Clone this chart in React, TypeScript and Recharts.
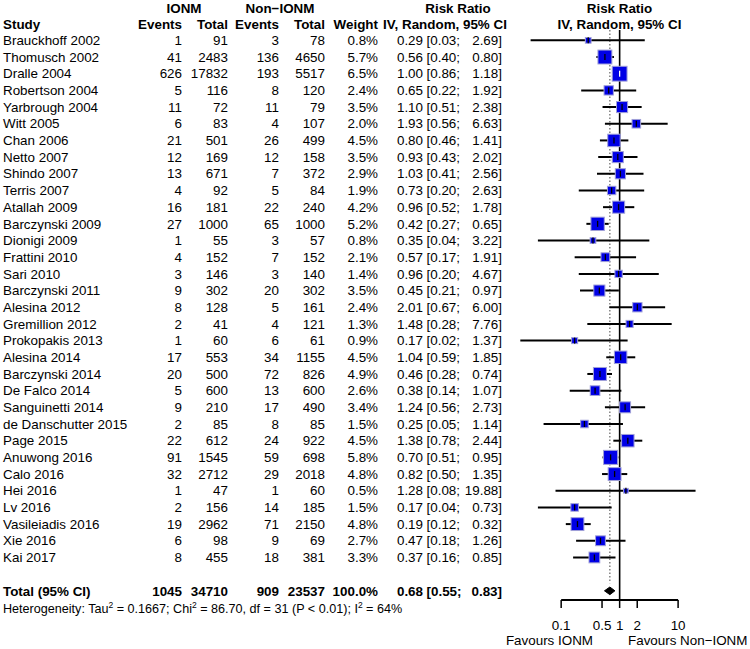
import { ScatterChart, Scatter, XAxis, YAxis, ErrorBar, ReferenceLine, Customized } from 'recharts'

const studies = [
  'Brauckhoff 2002', 'Thomusch 2002', 'Dralle 2004', 'Robertson 2004', 'Yarbrough 2004', 'Witt 2005',
  'Chan 2006', 'Netto 2007', 'Shindo 2007', 'Terris 2007', 'Atallah 2009', 'Barczynski 2009',
  'Dionigi 2009', 'Frattini 2010', 'Sari 2010', 'Barczynski 2011', 'Alesina 2012', 'Gremillion 2012',
  'Prokopakis 2013', 'Alesina 2014', 'Barczynski 2014', 'De Falco 2014', 'Sanguinetti 2014',
  'de Danschutter 2015', 'Page 2015', 'Anuwong 2016', 'Calo 2016', 'Hei 2016', 'Lv 2016',
  'Vasileiadis 2016', 'Xie 2016', 'Kai 2017',
]
const ionmEvents = [1, 41, 626, 5, 11, 6, 21, 12, 13, 4, 16, 27, 1, 4, 3, 9, 8, 2, 1, 17, 20, 5, 9, 2, 22, 91, 32, 1, 2, 19, 6, 8]
const ionmTotal = [91, 2483, 17832, 116, 72, 83, 501, 169, 671, 92, 181, 1000, 55, 152, 146, 302, 128, 41, 60, 553, 500, 600, 210, 85, 612, 1545, 2712, 47, 156, 2962, 98, 455]
const nonEvents = [3, 136, 193, 8, 11, 4, 26, 12, 7, 5, 22, 65, 3, 7, 3, 20, 5, 4, 6, 34, 72, 13, 17, 8, 24, 59, 29, 1, 14, 71, 9, 18]
const nonTotal = [78, 4650, 5517, 120, 79, 107, 499, 158, 372, 84, 240, 1000, 57, 152, 140, 302, 161, 121, 61, 1155, 826, 600, 490, 85, 922, 698, 2018, 60, 185, 2150, 69, 381]
const weights = [0.8, 5.7, 6.5, 2.4, 3.5, 2.0, 4.5, 3.5, 2.9, 1.9, 4.2, 5.2, 0.8, 2.1, 1.4, 3.5, 2.4, 1.3, 0.9, 4.5, 4.9, 2.6, 3.4, 1.5, 4.5, 5.8, 4.8, 0.5, 1.5, 4.8, 2.7, 3.3]
const riskRatio = [0.29, 0.56, 1.0, 0.65, 1.1, 1.93, 0.8, 0.93, 1.03, 0.73, 0.96, 0.42, 0.35, 0.57, 0.96, 0.45, 2.01, 1.48, 0.17, 1.04, 0.46, 0.38, 1.24, 0.25, 1.38, 0.7, 0.82, 1.28, 0.17, 0.19, 0.47, 0.37]
const ciLower = [0.03, 0.4, 0.86, 0.22, 0.51, 0.56, 0.46, 0.43, 0.41, 0.2, 0.52, 0.27, 0.04, 0.17, 0.2, 0.21, 0.67, 0.28, 0.02, 0.59, 0.28, 0.14, 0.56, 0.05, 0.78, 0.51, 0.5, 0.08, 0.04, 0.12, 0.18, 0.16]
const ciUpper = [2.69, 0.8, 1.18, 1.92, 2.38, 6.63, 1.41, 2.02, 2.56, 2.63, 1.78, 0.65, 3.22, 1.91, 4.67, 0.97, 6.0, 7.76, 1.37, 1.85, 0.74, 1.07, 2.73, 1.14, 2.44, 0.95, 1.35, 19.88, 0.73, 0.32, 1.26, 0.85]

const totalEvents = [1045, 909]
const totalN = [34710, 23537]
const pooled = [0.55, 0.68, 0.83] // lower, estimate, upper
const xTicks = [0.1, 0.5, 1, 2, 10]

const W = 750
const H = 649
const X_MIN = 0.015
const X_MAX = 30
const Y_TOP = -0.62
const Y_BOTTOM = 33.55
const TOTAL_ROW = 33
const M = { top: 30, right: 44, bottom: 0, left: 513 }
const PX_PER_DECADE = (W - M.left - M.right) / Math.log10(X_MAX / X_MIN)

const FONT = '"Liberation Sans", Arial, Helvetica, sans-serif'
const FS = 13.4

const boxSide = (w: number) => 5.5 * Math.sqrt(w) + 0.8

const rows = studies.map((study, i) => ({
  study,
  row: i,
  rr: riskRatio[i],
  err: [riskRatio[i] - ciLower[i], ciUpper[i] - riskRatio[i]],
  e1: ionmEvents[i],
  n1: ionmTotal[i],
  e2: nonEvents[i],
  n2: nonTotal[i],
  weight: weights[i],
  lo: ciLower[i],
  hi: ciUpper[i],
  // CI narrower than the box -> line drawn white
  narrow: Math.log10(ciUpper[i] / ciLower[i]) * PX_PER_DECADE < boxSide(weights[i]),
}))
const wideRows = rows.filter(r => !r.narrow)
const narrowRows = rows.filter(r => r.narrow)
const totalPts = pooled.map(v => ({ rr: v, row: TOTAL_ROW }))

const txt = { fontFamily: FONT, fontSize: FS, fill: '#000' }

function RowText({ y, cells, bold }: { y: number; cells: string[]; bold?: boolean }) {
  const [study, e1, n1, e2, n2, w, est, lo, hi] = cells
  const s = { ...txt, fontWeight: bold ? 'bold' : 'normal' }
  return (
    <g>
      <text x={3} y={y} dy="0.35em" {...s}>{study}</text>
      <text x={182} y={y} dy="0.35em" textAnchor="end" {...s}>{e1}</text>
      <text x={228} y={y} dy="0.35em" textAnchor="end" {...s}>{n1}</text>
      <text x={279} y={y} dy="0.35em" textAnchor="end" {...s}>{e2}</text>
      <text x={325} y={y} dy="0.35em" textAnchor="end" {...s}>{n2}</text>
      <text x={378} y={y} dy="0.35em" textAnchor="end" {...s}>{w}</text>
      <text x={423} y={y} dy="0.35em" textAnchor="end" {...s}>{est}</text>
      <text x={426.5} y={y} dy="0.35em" {...s}>{lo}</text>
      <text x={502} y={y} dy="0.35em" textAnchor="end" {...s}>{hi}</text>
    </g>
  )
}

function StudyBox(props: any) {
  const { cx, cy, payload } = props
  const s = boxSide(payload.weight)
  return (
    <g>
      <RowText
        y={cy}
        cells={[
          payload.study, String(payload.e1), String(payload.n1), String(payload.e2), String(payload.n2),
          `${payload.weight.toFixed(1)}%`, payload.rr.toFixed(2), `[${payload.lo.toFixed(2)};`, `${payload.hi.toFixed(2)}]`,
        ]}
      />
      <rect x={cx - s / 2} y={cy - s / 2} width={s} height={s} fill="#0000e6" stroke="#a0a0d8" strokeWidth={1} />
    </g>
  )
}

const CenterTick = (color: string) => (props: any) => (
  <line x1={props.cx} x2={props.cx} y1={props.cy - 3} y2={props.cy + 3} stroke={color} strokeWidth={1.3} />
)

function Diamond(props: any) {
  const pts = props.points || []
  if (pts.length < 3) return <g />
  const [a, b, c] = pts
  const y = b.y
  return (
    <g>
      <polygon points={`${a.x},${y} ${b.x},${y - 3.8} ${c.x},${y} ${b.x},${y + 3.8}`} fill="#000" stroke="#000" strokeWidth={1} />
      <RowText
        y={y}
        bold
        cells={[
          'Total (95% CI)', String(totalEvents[0]), String(totalN[0]), String(totalEvents[1]), String(totalN[1]),
          '100.0%', pooled[1].toFixed(2), `[${pooled[0].toFixed(2)};`, `${pooled[2].toFixed(2)}]`,
        ]}
      />
    </g>
  )
}

function Headers() {
  const b = { ...txt, fontWeight: 'bold' as const }
  const y1 = 8
  const y2 = 24
  return (
    <g>
      <text x={184} y={y1} dy="0.35em" textAnchor="middle" {...b}>IONM</text>
      <text x={280} y={y1} dy="0.35em" textAnchor="middle" {...b}>Non−IONM</text>
      <text x={458} y={y1} dy="0.35em" textAnchor="middle" {...b}>Risk Ratio</text>
      <text x={619.5} y={y1} dy="0.35em" textAnchor="middle" {...b}>Risk Ratio</text>
      <text x={3} y={y2} dy="0.35em" {...b}>Study</text>
      <text x={182} y={y2} dy="0.35em" textAnchor="end" {...b}>Events</text>
      <text x={228} y={y2} dy="0.35em" textAnchor="end" {...b}>Total</text>
      <text x={279} y={y2} dy="0.35em" textAnchor="end" {...b}>Events</text>
      <text x={325} y={y2} dy="0.35em" textAnchor="end" {...b}>Total</text>
      <text x={378} y={y2} dy="0.35em" textAnchor="end" {...b}>Weight</text>
      <text x={445} y={y2} dy="0.35em" textAnchor="middle" {...b}>IV, Random, 95% CI</text>
      <text x={619.5} y={y2} dy="0.35em" textAnchor="middle" {...b}>IV, Random, 95% CI</text>
      <text x={3} y={609} dy="0.35em" {...txt} fontSize={12.6}>
        Heterogeneity: Tau<tspan dy="-5" fontSize={8.5}>2</tspan>
        <tspan dy="5"> = 0.1667; Chi</tspan><tspan dy="-5" fontSize={8.5}>2</tspan>
        <tspan dy="5"> = 86.70, df = 31 (P &lt; 0.01); I</tspan><tspan dy="-5" fontSize={8.5}>2</tspan>
        <tspan dy="5"> = 64%</tspan>
      </text>
      <text x={593} y={640} dy="0.35em" textAnchor="end" {...txt}>Favours IONM</text>
      <text x={628} y={640} dy="0.35em" {...txt}>Favours Non−IONM</text>
    </g>
  )
}

export default function App() {
  return (
    <div style={{ position: 'absolute', left: 0, top: 0, width: W, height: H, background: '#fff' }}>
      <ScatterChart width={W} height={H} margin={M}>
        <XAxis
          type="number"
          dataKey="rr"
          scale="log"
          domain={[X_MIN, X_MAX]}
          ticks={xTicks}
          tickFormatter={(v: number) => String(v)}
          axisLine={false}
          tickSize={8}
          tickMargin={12}
          tickLine={{ stroke: '#000', strokeWidth: 1.5 }}
          tick={{ fill: '#000', fontSize: FS, fontFamily: FONT }}
          height={49}
          interval={0}
        />
        <YAxis type="number" dataKey="row" domain={[Y_TOP, Y_BOTTOM]} reversed hide width={0} />
        <ReferenceLine x={1} stroke="#000" strokeWidth={1.6} />
        <ReferenceLine
          segment={[{ x: pooled[1], y: Y_TOP }, { x: pooled[1], y: TOTAL_ROW - 0.45 }]}
          stroke="#707070"
          strokeWidth={1.3}
          strokeDasharray="1.5 2"
        />
        <ReferenceLine
          segment={[{ x: xTicks[0], y: Y_BOTTOM }, { x: xTicks[xTicks.length - 1], y: Y_BOTTOM }]}
          stroke="#000"
          strokeWidth={1.8}
        />
        <Scatter data={rows} dataKey="rr" shape={StudyBox} isAnimationActive={false} />
        <Scatter data={wideRows} dataKey="rr" shape={CenterTick('#000')} isAnimationActive={false}>
          <ErrorBar dataKey="err" direction="x" width={0} stroke="#000" strokeWidth={2} />
        </Scatter>
        <Scatter data={narrowRows} dataKey="rr" shape={CenterTick('#fff')} isAnimationActive={false}>
          <ErrorBar dataKey="err" direction="x" width={0} stroke="#fff" strokeWidth={2} />
        </Scatter>
        <Scatter data={totalPts} dataKey="rr" shape={() => <g />} line={Diamond} isAnimationActive={false} />
        <Customized component={<Headers />} />
      </ScatterChart>
    </div>
  )
}
